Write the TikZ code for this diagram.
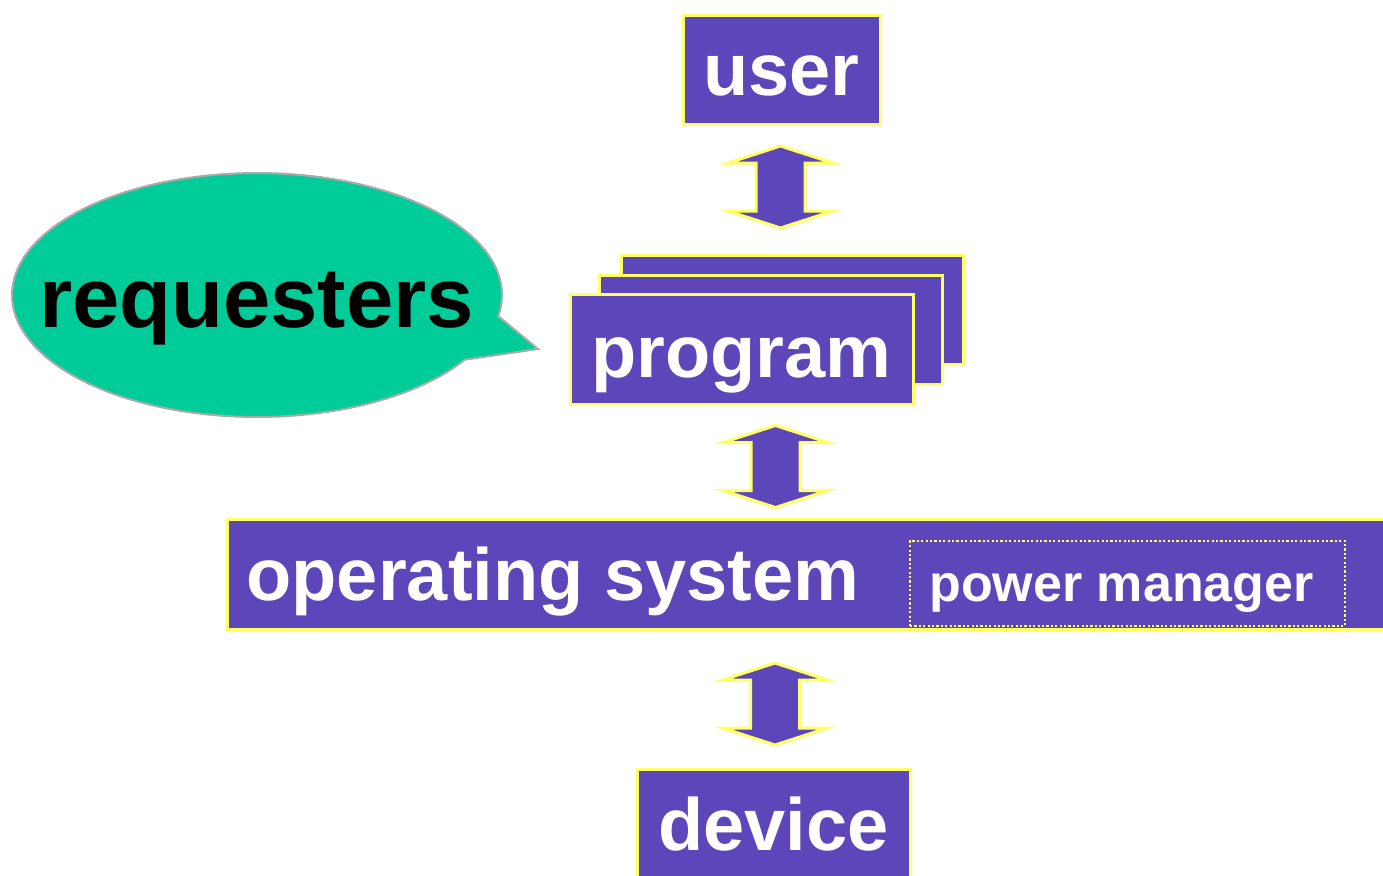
\documentclass[tikz,border=0pt]{standalone}
\usepackage{fontspec}
\setmainfont{Liberation Sans}
\usetikzlibrary{calc}

\definecolor{boxpurple}{RGB}{92,70,185}
\definecolor{rimyellow}{RGB}{255,255,102}
\definecolor{bubblegreen}{RGB}{0,204,153}
\definecolor{bubbleedge}{RGB}{170,170,170}

\tikzset{
  block/.style={rectangle, fill=boxpurple, draw=rimyellow, line width=1.5pt,
    text=white, font=\fontsize{37}{44}\selectfont\bfseries,
    inner sep=0pt, text depth=0pt},
  pmbox/.style={rectangle, draw=rimyellow, line width=1.1pt,
    dash pattern=on 1.1pt off 1.1pt, text=white,
    font=\fontsize{26}{31}\selectfont\bfseries, inner sep=0pt,
    text height=17.5pt, text depth=0pt,
    minimum width=217.5pt, minimum height=42.5pt},
  bubble/.style={fill=bubblegreen, draw=bubbleedge, line width=1pt},
  bubbletext/.style={font=\fontsize{42.5}{50}\selectfont\bfseries,
    text=black, inner sep=0pt, anchor=base},
  blockarrow/.style={fill=boxpurple, draw=rimyellow, line width=1.5pt},
  updown/.pic={
    \path[blockarrow] (0,-41) -- (52.5,-24) -- (24.5,-24) -- (24.5,24)
      -- (52.5,24) -- (0,41) -- (-52.5,24) -- (-24.5,24) -- (-24.5,-24)
      -- (-52.5,-24) -- cycle;
  }
}

\begin{document}
\begin{tikzpicture}[x=0.5pt, y=-0.5pt]
  \useasboundingbox (0,0) rectangle (1383,875);
  \fill[white] (0,0) rectangle (1383,875);
  \clip (0,0) rectangle (1383,875);

  % speech bubble
  \path[bubble] plot[domain=32:370, samples=140]
      ({257+245*cos(\x)}, {295+122*sin(\x)}) -- (538,349) -- cycle;
  \node[bubbletext] (req) at (256.5,327) {requesters};

  % stacked program boxes, back to front
  \node[block, minimum width=171pt, minimum height=54.5pt]
    (prog3) at (792,309.5) {};
  \node[block, minimum width=171.5pt, minimum height=54.5pt]
    (prog2) at (770.5,329.5) {};
  \node[block, minimum width=171.5pt, minimum height=55pt, text height=28.5pt]
    (prog1) at (741.5,349) {program};

  % user
  \node[block, minimum width=98.5pt, minimum height=54.5pt, text height=25.5pt]
    (user) at (781.5,69.5) {user};

  % operating system with embedded power manager
  \node[block, anchor=west, minimum height=55pt, text height=26pt,
    inner xsep=9.5pt] (os) at (226,574)
    {\makebox[600pt][l]{operating system}};
  \node[pmbox] (pm) at (1127.5,583.5) {\hspace*{-6pt}power manager};

  % device
  \node[block, minimum width=136.5pt, minimum height=55pt, text height=26pt]
    (device) at (773.5,824) {device};

  % two-way block arrows between layers
  \pic (a1) at (780.5,187) {updown};
  \pic (a2) at (775.5,466.5) {updown};
  \pic (a3) at (775,704) {updown};
\end{tikzpicture}
\end{document}
